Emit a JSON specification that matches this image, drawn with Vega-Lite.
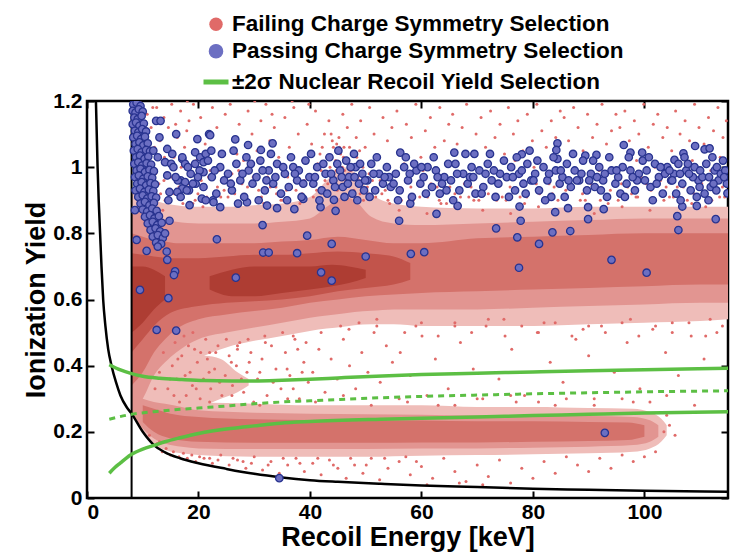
{
"$schema":"https://vega.github.io/schema/vega-lite/v6.json",
"width":641,"height":397,
"autosize":{"type":"none"},
"padding":{"left":87,"top":101,"right":17,"bottom":60},
"background":"white",
"config":{
"view":{"stroke":"#000","strokeWidth":2.5},
"font":"Liberation Sans",
"axis":{"labelFont":"Liberation Sans","labelFontWeight":"bold","labelFontSize":21,"labelColor":"#000","titleFont":"Liberation Sans","titleFontWeight":"bold","titleFontSize":27,"titleColor":"#000","grid":false,"domain":false,"tickColor":"#000","tickWidth":2,"tickSize":-7,"zindex":1}
},
"datasets":{
"dens":[
{"g":"1A","lev":1,"x":8,"lo":0.255,"hi":0.93},{"g":"1A","lev":1,"x":10,"lo":0.26,"hi":0.91},{"g":"1A","lev":1,"x":12,"lo":0.3,"hi":0.9},{"g":"1A","lev":1,"x":14,"lo":0.34,"hi":0.89},{"g":"1A","lev":1,"x":16,"lo":0.37,"hi":0.885},{"g":"1A","lev":1,"x":20,"lo":0.42,"hi":0.88},{"g":"1A","lev":1,"x":25,"lo":0.455,"hi":0.88},{"g":"1A","lev":1,"x":30,"lo":0.475,"hi":0.885},{"g":"1A","lev":1,"x":35,"lo":0.49,"hi":0.89},{"g":"1A","lev":1,"x":40,"lo":0.505,"hi":0.91},{"g":"1A","lev":1,"x":43,"lo":0.512,"hi":0.96},{"g":"1A","lev":1,"x":46,"lo":0.518,"hi":1.0},{"g":"1A","lev":1,"x":48,"lo":0.522,"hi":0.985},{"g":"1A","lev":1,"x":51,"lo":0.525,"hi":0.92},{"g":"1A","lev":1,"x":55,"lo":0.525,"hi":0.89},{"g":"1A","lev":1,"x":60,"lo":0.52,"hi":0.88},{"g":"1A","lev":1,"x":70,"lo":0.52,"hi":0.875},{"g":"1A","lev":1,"x":80,"lo":0.52,"hi":0.875},{"g":"1A","lev":1,"x":90,"lo":0.525,"hi":0.88},{"g":"1A","lev":1,"x":100,"lo":0.53,"hi":0.88},{"g":"1A","lev":1,"x":110,"lo":0.535,"hi":0.88},{"g":"1A","lev":1,"x":115,"lo":0.54,"hi":0.88},
{"g":"1B","lev":1,"x":8,"lo":0.255,"hi":0.32},{"g":"1B","lev":1,"x":10,"lo":0.2,"hi":0.31},{"g":"1B","lev":1,"x":12,"lo":0.165,"hi":0.305},{"g":"1B","lev":1,"x":14,"lo":0.145,"hi":0.3},{"g":"1B","lev":1,"x":17,"lo":0.135,"hi":0.295},{"g":"1B","lev":1,"x":20,"lo":0.13,"hi":0.29},{"g":"1B","lev":1,"x":30,"lo":0.125,"hi":0.285},{"g":"1B","lev":1,"x":40,"lo":0.125,"hi":0.28},{"g":"1B","lev":1,"x":50,"lo":0.125,"hi":0.28},{"g":"1B","lev":1,"x":60,"lo":0.128,"hi":0.28},{"g":"1B","lev":1,"x":70,"lo":0.13,"hi":0.275},{"g":"1B","lev":1,"x":80,"lo":0.132,"hi":0.275},{"g":"1B","lev":1,"x":90,"lo":0.135,"hi":0.272},{"g":"1B","lev":1,"x":98,"lo":0.14,"hi":0.27},{"g":"1B","lev":1,"x":101,"lo":0.15,"hi":0.26},{"g":"1B","lev":1,"x":103,"lo":0.17,"hi":0.24},{"g":"1B","lev":1,"x":104,"lo":0.19,"hi":0.22},
{"g":"1M","lev":1,"x":12,"lo":0.28,"hi":0.36},{"g":"1M","lev":1,"x":15,"lo":0.27,"hi":0.41},{"g":"1M","lev":1,"x":18,"lo":0.27,"hi":0.43},{"g":"1M","lev":1,"x":21,"lo":0.28,"hi":0.43},{"g":"1M","lev":1,"x":24,"lo":0.3,"hi":0.42},{"g":"1M","lev":1,"x":27,"lo":0.32,"hi":0.38},{"g":"1M","lev":1,"x":29,"lo":0.34,"hi":0.36},
{"g":"2A","lev":2,"x":8,"lo":0.27,"hi":0.87},{"g":"2A","lev":2,"x":10,"lo":0.3,"hi":0.86},{"g":"2A","lev":2,"x":12,"lo":0.37,"hi":0.85},{"g":"2A","lev":2,"x":14,"lo":0.41,"hi":0.84},{"g":"2A","lev":2,"x":16,"lo":0.44,"hi":0.835},{"g":"2A","lev":2,"x":20,"lo":0.48,"hi":0.83},{"g":"2A","lev":2,"x":25,"lo":0.5,"hi":0.83},{"g":"2A","lev":2,"x":30,"lo":0.515,"hi":0.83},{"g":"2A","lev":2,"x":35,"lo":0.53,"hi":0.835},{"g":"2A","lev":2,"x":40,"lo":0.545,"hi":0.845},{"g":"2A","lev":2,"x":43,"lo":0.552,"hi":0.88},{"g":"2A","lev":2,"x":46,"lo":0.558,"hi":0.91},{"g":"2A","lev":2,"x":48,"lo":0.562,"hi":0.9},{"g":"2A","lev":2,"x":51,"lo":0.566,"hi":0.85},{"g":"2A","lev":2,"x":55,"lo":0.57,"hi":0.83},{"g":"2A","lev":2,"x":60,"lo":0.57,"hi":0.825},{"g":"2A","lev":2,"x":70,"lo":0.57,"hi":0.83},{"g":"2A","lev":2,"x":80,"lo":0.575,"hi":0.835},{"g":"2A","lev":2,"x":90,"lo":0.58,"hi":0.84},{"g":"2A","lev":2,"x":100,"lo":0.585,"hi":0.845},{"g":"2A","lev":2,"x":110,"lo":0.59,"hi":0.845},{"g":"2A","lev":2,"x":115,"lo":0.59,"hi":0.845},
{"g":"2B","lev":2,"x":8,"lo":0.26,"hi":0.31},{"g":"2B","lev":2,"x":10,"lo":0.21,"hi":0.3},{"g":"2B","lev":2,"x":12,"lo":0.18,"hi":0.29},{"g":"2B","lev":2,"x":14,"lo":0.165,"hi":0.285},{"g":"2B","lev":2,"x":17,"lo":0.155,"hi":0.275},{"g":"2B","lev":2,"x":20,"lo":0.15,"hi":0.265},{"g":"2B","lev":2,"x":30,"lo":0.148,"hi":0.258},{"g":"2B","lev":2,"x":40,"lo":0.148,"hi":0.255},{"g":"2B","lev":2,"x":50,"lo":0.148,"hi":0.253},{"g":"2B","lev":2,"x":60,"lo":0.15,"hi":0.252},{"g":"2B","lev":2,"x":70,"lo":0.15,"hi":0.25},{"g":"2B","lev":2,"x":80,"lo":0.152,"hi":0.25},{"g":"2B","lev":2,"x":90,"lo":0.155,"hi":0.248},{"g":"2B","lev":2,"x":98,"lo":0.16,"hi":0.245},{"g":"2B","lev":2,"x":101,"lo":0.17,"hi":0.235},{"g":"2B","lev":2,"x":102.5,"lo":0.185,"hi":0.22},
{"g":"3A","lev":3,"x":8,"lo":0.34,"hi":0.8},{"g":"3A","lev":3,"x":10,"lo":0.38,"hi":0.79},{"g":"3A","lev":3,"x":12,"lo":0.44,"hi":0.78},{"g":"3A","lev":3,"x":14,"lo":0.48,"hi":0.775},{"g":"3A","lev":3,"x":16,"lo":0.51,"hi":0.77},{"g":"3A","lev":3,"x":20,"lo":0.54,"hi":0.77},{"g":"3A","lev":3,"x":25,"lo":0.555,"hi":0.77},{"g":"3A","lev":3,"x":30,"lo":0.565,"hi":0.77},{"g":"3A","lev":3,"x":35,"lo":0.575,"hi":0.775},{"g":"3A","lev":3,"x":40,"lo":0.59,"hi":0.78},{"g":"3A","lev":3,"x":45,"lo":0.6,"hi":0.79},{"g":"3A","lev":3,"x":50,"lo":0.61,"hi":0.78},{"g":"3A","lev":3,"x":55,"lo":0.615,"hi":0.77},{"g":"3A","lev":3,"x":60,"lo":0.62,"hi":0.77},{"g":"3A","lev":3,"x":70,"lo":0.625,"hi":0.785},{"g":"3A","lev":3,"x":80,"lo":0.63,"hi":0.79},{"g":"3A","lev":3,"x":90,"lo":0.635,"hi":0.795},{"g":"3A","lev":3,"x":100,"lo":0.64,"hi":0.8},{"g":"3A","lev":3,"x":110,"lo":0.645,"hi":0.8},{"g":"3A","lev":3,"x":115,"lo":0.645,"hi":0.8},
{"g":"3B","lev":3,"x":10,"lo":0.23,"hi":0.28},{"g":"3B","lev":3,"x":12,"lo":0.2,"hi":0.27},{"g":"3B","lev":3,"x":15,"lo":0.18,"hi":0.255},{"g":"3B","lev":3,"x":20,"lo":0.17,"hi":0.245},{"g":"3B","lev":3,"x":30,"lo":0.167,"hi":0.238},{"g":"3B","lev":3,"x":40,"lo":0.167,"hi":0.236},{"g":"3B","lev":3,"x":50,"lo":0.167,"hi":0.235},{"g":"3B","lev":3,"x":60,"lo":0.168,"hi":0.234},{"g":"3B","lev":3,"x":70,"lo":0.168,"hi":0.232},{"g":"3B","lev":3,"x":80,"lo":0.17,"hi":0.232},{"g":"3B","lev":3,"x":90,"lo":0.172,"hi":0.23},{"g":"3B","lev":3,"x":97,"lo":0.175,"hi":0.228},{"g":"3B","lev":3,"x":100,"lo":0.185,"hi":0.22},
{"g":"4A","lev":4,"x":8,"lo":0.44,"hi":0.74},{"g":"4A","lev":4,"x":10,"lo":0.48,"hi":0.735},{"g":"4A","lev":4,"x":12,"lo":0.52,"hi":0.73},{"g":"4A","lev":4,"x":15,"lo":0.56,"hi":0.725},{"g":"4A","lev":4,"x":20,"lo":0.58,"hi":0.725},{"g":"4A","lev":4,"x":25,"lo":0.59,"hi":0.73},{"g":"4A","lev":4,"x":30,"lo":0.595,"hi":0.735},{"g":"4A","lev":4,"x":35,"lo":0.6,"hi":0.735},{"g":"4A","lev":4,"x":40,"lo":0.61,"hi":0.74},{"g":"4A","lev":4,"x":45,"lo":0.625,"hi":0.745},{"g":"4A","lev":4,"x":50,"lo":0.635,"hi":0.74},{"g":"4A","lev":4,"x":55,"lo":0.645,"hi":0.73},{"g":"4A","lev":4,"x":58,"lo":0.66,"hi":0.71},
{"g":"5A","lev":5,"x":8,"lo":0.5,"hi":0.7},{"g":"5A","lev":5,"x":10,"lo":0.53,"hi":0.7},{"g":"5A","lev":5,"x":12,"lo":0.57,"hi":0.69},{"g":"5A","lev":5,"x":14,"lo":0.6,"hi":0.67},
{"g":"5C","lev":5,"x":22,"lo":0.63,"hi":0.67},{"g":"5C","lev":5,"x":26,"lo":0.61,"hi":0.69},{"g":"5C","lev":5,"x":30,"lo":0.61,"hi":0.7},{"g":"5C","lev":5,"x":35,"lo":0.62,"hi":0.7},{"g":"5C","lev":5,"x":40,"lo":0.63,"hi":0.7},{"g":"5C","lev":5,"x":44,"lo":0.64,"hi":0.705},{"g":"5C","lev":5,"x":47,"lo":0.65,"hi":0.7},{"g":"5C","lev":5,"x":50,"lo":0.665,"hi":0.69}
],
"pf":[
{"x":12.5,"y":1.18},{"x":13.8,"y":1.15},{"x":15.2,"y":1.19},{"x":14.6,"y":1.12},{"x":13.1,"y":1.08},{"x":15.9,"y":1.13},{"x":16.8,"y":1.17},{"x":17.5,"y":1.06},{"x":18.3,"y":1.14},{"x":19.1,"y":1.19},{"x":12.9,"y":0.95},{"x":14.1,"y":0.9},{"x":13.6,"y":0.87},
{"x":16.2,"y":1.09},{"x":17.9,"y":1.11},{"x":19.6,"y":1.02},{"x":20.4,"y":1.15},{"x":21.2,"y":1.07},{"x":22.5,"y":1.18},{"x":23.3,"y":1.12},{"x":24.1,"y":1.04},{"x":18.7,"y":0.98},{"x":21.8,"y":0.97},{"x":23.7,"y":0.99},{"x":16.5,"y":0.94},{"x":19.9,"y":0.92},{"x":22.9,"y":0.9},{"x":24.6,"y":0.93},{"x":17.2,"y":0.89},{"x":20.8,"y":0.88},{"x":18.0,"y":1.2},{"x":24.8,"y":1.16},{"x":15.6,"y":1.03},
{"x":25.7,"y":1.19},{"x":26.4,"y":1.08},{"x":27.3,"y":1.13},{"x":28.1,"y":1.02},{"x":28.9,"y":1.17},{"x":29.6,"y":1.1},{"x":30.5,"y":1.05},{"x":31.2,"y":1.14},{"x":32.1,"y":1.19},{"x":32.8,"y":1.08},{"x":33.6,"y":1.12},{"x":34.4,"y":1.03},{"x":26.0,"y":0.98},{"x":27.8,"y":0.95},{"x":29.2,"y":0.99},{"x":30.8,"y":0.93},{"x":32.4,"y":0.97},{"x":33.9,"y":0.94},{"x":25.3,"y":0.91},{"x":28.5,"y":0.9},{"x":31.7,"y":0.89},{"x":34.8,"y":0.9},{"x":26.9,"y":1.04},{"x":30.1,"y":1.2},{"x":33.2,"y":1.16},
{"x":35.5,"y":1.15},{"x":36.3,"y":1.06},{"x":37.1,"y":1.18},{"x":37.9,"y":1.1},{"x":38.7,"y":1.02},{"x":39.5,"y":1.13},{"x":40.3,"y":1.07},{"x":41.0,"y":1.17},{"x":41.8,"y":1.04},{"x":42.6,"y":1.1},{"x":43.4,"y":1.14},{"x":44.2,"y":1.06},{"x":36.0,"y":0.97},{"x":37.5,"y":0.93},{"x":39.0,"y":0.96},{"x":40.6,"y":0.91},{"x":42.0,"y":0.99},{"x":43.6,"y":1.0},{"x":44.6,"y":1.02},{"x":45.0,"y":1.05},{"x":43.0,"y":1.03},{"x":44.0,"y":1.08},{"x":42.2,"y":1.06},{"x":41.4,"y":1.01},{"x":35.2,"y":0.9},{"x":38.2,"y":0.89},{"x":39.8,"y":1.19},{"x":36.8,"y":1.2},
{"x":44.8,"y":1.07},{"x":45.5,"y":1.04},{"x":46.1,"y":1.06},{"x":46.8,"y":1.02},{"x":47.3,"y":0.99},{"x":45.8,"y":1.0},{"x":44.3,"y":0.97},{"x":46.5,"y":0.96},{"x":48.0,"y":1.0},{"x":48.6,"y":0.97},{"x":47.7,"y":1.04},{"x":49.2,"y":0.95},{"x":43.8,"y":1.1},{"x":45.2,"y":1.09},
{"x":45.9,"y":1.16},{"x":46.7,"y":1.12},{"x":47.5,"y":1.19},{"x":48.3,"y":1.09},{"x":49.1,"y":1.14},{"x":49.9,"y":1.06},{"x":50.7,"y":1.18},{"x":51.5,"y":1.1},{"x":52.3,"y":1.03},{"x":53.1,"y":1.15},{"x":53.9,"y":1.08},{"x":54.7,"y":1.12},{"x":50.3,"y":0.94},{"x":51.8,"y":0.91},{"x":53.5,"y":0.93},{"x":54.3,"y":0.89},{"x":52.6,"y":0.96},{"x":49.6,"y":0.9},
{"x":55.6,"y":1.17},{"x":56.5,"y":1.05},{"x":57.3,"y":1.13},{"x":58.2,"y":1.09},{"x":59.0,"y":1.19},{"x":59.9,"y":1.03},{"x":60.7,"y":1.11},{"x":61.6,"y":1.15},{"x":62.4,"y":1.06},{"x":63.3,"y":1.18},{"x":64.1,"y":1.08},{"x":64.9,"y":1.13},{"x":55.9,"y":0.93},{"x":57.8,"y":0.9},{"x":59.4,"y":0.95},{"x":61.1,"y":0.91},{"x":62.8,"y":0.94},{"x":64.5,"y":0.89},{"x":56.9,"y":1.01},{"x":60.3,"y":0.99},
{"x":65.6,"y":1.16},{"x":66.4,"y":1.07},{"x":67.3,"y":1.12},{"x":68.1,"y":1.19},{"x":69.0,"y":1.04},{"x":69.8,"y":1.1},{"x":70.7,"y":1.15},{"x":71.5,"y":1.06},{"x":72.4,"y":1.17},{"x":73.2,"y":1.09},{"x":74.1,"y":1.13},{"x":74.9,"y":1.04},{"x":66.0,"y":0.92},{"x":67.7,"y":0.95},{"x":69.4,"y":0.9},{"x":71.0,"y":0.93},{"x":72.8,"y":0.96},{"x":74.5,"y":0.91},{"x":68.6,"y":1.0},{"x":71.9,"y":0.98},
{"x":75.6,"y":1.18},{"x":76.5,"y":1.1},{"x":77.3,"y":1.14},{"x":78.2,"y":1.05},{"x":79.0,"y":1.16},{"x":79.9,"y":1.08},{"x":80.7,"y":1.19},{"x":81.6,"y":1.11},{"x":82.4,"y":1.06},{"x":83.3,"y":1.14},{"x":84.1,"y":1.09},{"x":84.9,"y":1.17},{"x":75.9,"y":0.94},{"x":77.7,"y":0.91},{"x":79.4,"y":0.96},{"x":81.2,"y":0.92},{"x":82.9,"y":0.95},{"x":84.5,"y":0.9},{"x":76.8,"y":1.02},{"x":80.2,"y":1.0},
{"x":85.6,"y":1.15},{"x":86.4,"y":1.08},{"x":87.3,"y":1.18},{"x":88.1,"y":1.12},{"x":89.0,"y":1.05},{"x":89.8,"y":1.16},{"x":90.7,"y":1.09},{"x":91.5,"y":1.13},{"x":92.4,"y":1.19},{"x":93.2,"y":1.07},{"x":94.1,"y":1.11},{"x":94.9,"y":1.16},{"x":85.9,"y":0.93},{"x":87.7,"y":0.96},{"x":89.4,"y":0.9},{"x":91.1,"y":0.94},{"x":92.8,"y":0.91},{"x":94.5,"y":0.95},{"x":88.6,"y":1.02},{"x":91.9,"y":0.99},
{"x":95.6,"y":1.12},{"x":96.5,"y":1.17},{"x":97.3,"y":1.08},{"x":98.2,"y":1.14},{"x":99.0,"y":1.1},{"x":99.9,"y":1.19},{"x":100.7,"y":1.06},{"x":101.6,"y":1.13},{"x":102.4,"y":1.16},{"x":103.3,"y":1.09},{"x":104.1,"y":1.12},{"x":104.9,"y":1.05},{"x":95.9,"y":0.95},{"x":97.7,"y":0.92},{"x":99.4,"y":0.97},{"x":101.2,"y":0.93},{"x":102.9,"y":0.96},{"x":104.5,"y":0.91},{"x":98.6,"y":1.02},{"x":101.9,"y":1.0},
{"x":105.6,"y":1.17},{"x":106.4,"y":1.1},{"x":107.3,"y":1.14},{"x":108.1,"y":1.08},{"x":109.0,"y":1.19},{"x":109.8,"y":1.12},{"x":110.7,"y":1.07},{"x":111.5,"y":1.15},{"x":112.4,"y":1.11},{"x":113.2,"y":1.18},{"x":114.1,"y":1.09},{"x":114.7,"y":1.14},{"x":105.9,"y":0.94},{"x":107.7,"y":0.9},{"x":109.4,"y":0.96},{"x":111.1,"y":0.92},{"x":112.8,"y":0.95},{"x":114.4,"y":0.91},{"x":108.6,"y":1.02},{"x":111.9,"y":0.99},{"x":113.6,"y":1.03},
{"x":9.5,"y":1.2},{"x":10.8,"y":1.16},{"x":11.5,"y":1.12},{"x":12.1,"y":1.06},{"x":11.8,"y":1.18},{"x":13.9,"y":1.03},{"x":12.3,"y":0.98},{"x":13.2,"y":0.92},{"x":13.8,"y":0.96},{"x":15.0,"y":0.97},{"x":15.7,"y":0.92},{"x":16.9,"y":1.0},{"x":18.2,"y":0.95},{"x":19.4,"y":0.9},{"x":20.5,"y":0.96},{"x":21.5,"y":0.91},{"x":22.1,"y":0.99},{"x":23.4,"y":0.94},{"x":24.9,"y":0.97},{"x":26.5,"y":0.92},{"x":27.2,"y":0.99},{"x":28.8,"y":0.94},{"x":29.8,"y":0.97},{"x":31.3,"y":0.91},{"x":32.9,"y":0.94},{"x":34.2,"y":0.97},{"x":35.8,"y":0.93},{"x":37.2,"y":0.96},{"x":38.6,"y":0.92},{"x":40.1,"y":0.95},{"x":41.2,"y":0.93},{"x":42.7,"y":0.96},{"x":44.9,"y":0.93},{"x":46.2,"y":0.99},{"x":47.9,"y":0.93},{"x":49.6,"y":0.98},{"x":51.2,"y":0.96},{"x":52.9,"y":0.92},{"x":54.8,"y":0.95},{"x":56.4,"y":0.9},{"x":58.1,"y":0.94},{"x":59.7,"y":0.91},{"x":61.7,"y":0.95},{"x":63.2,"y":0.9},{"x":65.1,"y":0.94},{"x":67.0,"y":0.91},{"x":68.9,"y":0.94},{"x":70.3,"y":0.9},{"x":72.0,"y":0.92},{"x":73.9,"y":0.95},{"x":75.2,"y":0.9},{"x":77.0,"y":0.93},{"x":78.9,"y":0.91},{"x":80.6,"y":0.95},{"x":82.2,"y":0.9},{"x":83.8,"y":0.94},{"x":85.3,"y":0.91},{"x":87.0,"y":0.94},{"x":88.9,"y":0.92},{"x":90.4,"y":0.95},{"x":92.1,"y":0.9},{"x":93.9,"y":0.93},{"x":95.3,"y":0.9},{"x":97.0,"y":0.94},{"x":98.8,"y":0.91},{"x":100.3,"y":0.95},{"x":102.0,"y":0.9},{"x":103.9,"y":0.94},{"x":105.2,"y":0.91},{"x":107.0,"y":0.94},{"x":108.9,"y":0.92},{"x":110.3,"y":0.95},{"x":112.1,"y":0.9},{"x":114.0,"y":0.94},
{"x":43.2,"y":0.95},{"x":44.7,"y":0.99},{"x":46.0,"y":1.03},{"x":47.1,"y":1.06},{"x":48.4,"y":1.03},{"x":49.5,"y":1.0},{"x":50.6,"y":0.98},{"x":45.3,"y":1.06},{"x":46.9,"y":0.98},{"x":48.9,"y":1.05},
{"x":12.2,"y":0.33},{"x":13.0,"y":0.38},{"x":13.7,"y":0.44},{"x":14.9,"y":0.36},{"x":15.6,"y":0.31},{"x":16.3,"y":0.42},{"x":17.6,"y":0.37},{"x":18.2,"y":0.46},{"x":19.6,"y":0.33},{"x":20.4,"y":0.44},{"x":21.9,"y":0.38},{"x":23.8,"y":0.35},{"x":25.9,"y":0.41},{"x":27.7,"y":0.36},{"x":29.1,"y":0.41},{"x":31.0,"y":0.38},{"x":33.4,"y":0.35},{"x":35.9,"y":0.39},{"x":37.0,"y":0.33},{"x":38.6,"y":0.38},
{"x":11.2,"y":0.19},{"x":12.6,"y":0.165},{"x":13.0,"y":0.17},{"x":14.2,"y":0.15},{"x":15.5,"y":0.14},{"x":17.3,"y":0.135},{"x":18.8,"y":0.13},{"x":20.2,"y":0.125},{"x":22.0,"y":0.12},{"x":23.5,"y":0.115},{"x":26.2,"y":0.12},{"x":28.0,"y":0.11},{"x":29.5,"y":0.105},{"x":32.5,"y":0.1},{"x":35.2,"y":0.12},{"x":38.2,"y":0.105},{"x":41.4,"y":0.12},{"x":44.2,"y":0.1},{"x":47.3,"y":0.12},{"x":50.1,"y":0.1},{"x":53.4,"y":0.12},{"x":57.2,"y":0.125},{"x":59.1,"y":0.11},
{"x":14.5,"y":0.33},{"x":15.3,"y":0.4},{"x":16.1,"y":0.36},{"x":17.0,"y":0.43},{"x":17.8,"y":0.31},{"x":18.5,"y":0.38},{"x":19.3,"y":0.45},{"x":16.6,"y":0.29},{"x":18.9,"y":0.34},{"x":19.8,"y":0.41},{"x":15.8,"y":0.47},{"x":17.4,"y":0.49},{"x":19.0,"y":0.5},
{"x":20.3,"y":0.3},{"x":20.9,"y":0.36},{"x":21.6,"y":0.42},{"x":22.2,"y":0.33},{"x":22.9,"y":0.39},{"x":23.5,"y":0.46},{"x":24.2,"y":0.31},{"x":24.8,"y":0.37},{"x":25.5,"y":0.43},{"x":26.1,"y":0.34},{"x":26.8,"y":0.4},{"x":27.4,"y":0.47},{"x":28.1,"y":0.32},{"x":28.7,"y":0.38},{"x":29.4,"y":0.44},{"x":29.9,"y":0.29},{"x":21.3,"y":0.48},{"x":23.1,"y":0.44},{"x":25.0,"y":0.48},{"x":27.0,"y":0.45},{"x":28.9,"y":0.48},
{"x":30.6,"y":0.36},{"x":31.4,"y":0.42},{"x":32.3,"y":0.31},{"x":33.1,"y":0.46},{"x":33.9,"y":0.39},{"x":34.8,"y":0.33},{"x":35.6,"y":0.44},{"x":36.4,"y":0.37},{"x":37.3,"y":0.48},{"x":38.1,"y":0.3},{"x":38.9,"y":0.41},{"x":39.7,"y":0.35},{"x":31.9,"y":0.49},{"x":35.1,"y":0.5},{"x":37.8,"y":0.45},{"x":39.3,"y":0.47},
{"x":40.5,"y":0.38},{"x":41.6,"y":0.45},{"x":42.7,"y":0.32},{"x":43.8,"y":0.42},{"x":44.9,"y":0.36},{"x":46.0,"y":0.48},{"x":47.1,"y":0.4},{"x":48.2,"y":0.33},{"x":49.3,"y":0.44},{"x":50.4,"y":0.38},{"x":51.5,"y":0.5},{"x":52.6,"y":0.35},{"x":53.7,"y":0.46},{"x":54.8,"y":0.41},{"x":45.5,"y":0.52},{"x":48.8,"y":0.53},{"x":52.0,"y":0.54},
{"x":56.2,"y":0.44},{"x":58.0,"y":0.37},{"x":60.1,"y":0.49},{"x":62.5,"y":0.42},{"x":64.8,"y":0.33},{"x":67.0,"y":0.47},{"x":69.3,"y":0.39},{"x":71.6,"y":0.52},{"x":73.9,"y":0.36},{"x":76.2,"y":0.45},{"x":78.5,"y":0.31},{"x":80.8,"y":0.5},{"x":83.1,"y":0.41},{"x":85.4,"y":0.35},{"x":87.7,"y":0.48},{"x":90.0,"y":0.43},{"x":92.3,"y":0.52},{"x":94.6,"y":0.38},{"x":96.9,"y":0.47},{"x":99.2,"y":0.33},{"x":101.5,"y":0.51},{"x":103.8,"y":0.44},{"x":106.1,"y":0.37},{"x":108.4,"y":0.49},{"x":110.7,"y":0.42},{"x":113.0,"y":0.5},{"x":59.0,"y":0.52},{"x":66.0,"y":0.53},{"x":74.8,"y":0.54},{"x":82.0,"y":0.53},{"x":89.0,"y":0.51},{"x":97.5,"y":0.54},{"x":105.0,"y":0.53},{"x":111.8,"y":0.54},{"x":57.5,"y":0.29},{"x":63.0,"y":0.28},{"x":70.0,"y":0.3},{"x":77.0,"y":0.29},{"x":84.0,"y":0.28},{"x":91.0,"y":0.3},{"x":98.0,"y":0.29},{"x":104.0,"y":0.31},{"x":109.0,"y":0.28},
{"x":13.5,"y":0.14},{"x":15.0,"y":0.13},{"x":16.5,"y":0.125},{"x":18.0,"y":0.12},{"x":19.5,"y":0.11},{"x":21.0,"y":0.12},{"x":22.5,"y":0.105},{"x":24.0,"y":0.13},{"x":25.5,"y":0.1},{"x":27.0,"y":0.115},{"x":28.5,"y":0.09},{"x":30.0,"y":0.125},{"x":31.5,"y":0.085},{"x":33.0,"y":0.11},{"x":34.5,"y":0.075},{"x":36.0,"y":0.1},{"x":37.5,"y":0.12},{"x":39.0,"y":0.08},{"x":40.5,"y":0.105},{"x":42.0,"y":0.07},{"x":43.5,"y":0.115},{"x":45.0,"y":0.09},{"x":46.5,"y":0.06},{"x":48.0,"y":0.1},{"x":49.5,"y":0.075},{"x":51.0,"y":0.12},{"x":52.5,"y":0.055},{"x":54.0,"y":0.09},{"x":56.0,"y":0.11},{"x":58.0,"y":0.07},{"x":60.0,"y":0.095},{"x":62.0,"y":0.06},{"x":64.0,"y":0.12},{"x":66.0,"y":0.08},{"x":68.0,"y":0.05},{"x":70.0,"y":0.1},{"x":72.0,"y":0.065},{"x":74.0,"y":0.115},{"x":76.0,"y":0.045},{"x":78.0,"y":0.09},{"x":80.0,"y":0.06},{"x":82.0,"y":0.11},{"x":84.0,"y":0.075},{"x":86.0,"y":0.125},{"x":88.0,"y":0.1},{"x":90.0,"y":0.08},{"x":92.0,"y":0.12},{"x":94.0,"y":0.09},{"x":96.0,"y":0.13},{"x":98.0,"y":0.11},{"x":100.0,"y":0.125},{"x":102.0,"y":0.14},{"x":61.0,"y":0.04},{"x":66.8,"y":0.045},{"x":71.0,"y":0.04},
{"x":22,"y":0.29},{"x":26,"y":0.31},{"x":31,"y":0.28},{"x":36,"y":0.3},{"x":41,"y":0.29},{"x":46,"y":0.31},{"x":51,"y":0.28},{"x":56,"y":0.3},{"x":61,"y":0.31},{"x":66,"y":0.28},{"x":71,"y":0.3},{"x":76,"y":0.31},{"x":81,"y":0.29},{"x":86,"y":0.3},{"x":91,"y":0.28},{"x":96,"y":0.3},{"x":101,"y":0.29},{"x":104.5,"y":0.22},{"x":103.5,"y":0.2},{"x":105.5,"y":0.19},{"x":104.0,"y":0.25},
{"x":56,"y":0.87},{"x":58.5,"y":0.9},{"x":61,"y":0.86},{"x":63.5,"y":0.89},{"x":66,"y":0.88},{"x":68.5,"y":0.91},{"x":71,"y":0.87},{"x":73.5,"y":0.9},{"x":76,"y":0.86},{"x":78.5,"y":0.89},{"x":81,"y":0.88},{"x":83.5,"y":0.92},{"x":86,"y":0.87},{"x":88.5,"y":0.9},{"x":91,"y":0.86},{"x":93.5,"y":0.89},{"x":96,"y":0.88},{"x":98.5,"y":0.91},{"x":101,"y":0.87},{"x":103.5,"y":0.9},{"x":106,"y":0.86},{"x":108.5,"y":0.89},{"x":111,"y":0.88},{"x":113.5,"y":0.91},{"x":14,"y":0.9},{"x":19,"y":0.89},{"x":24,"y":0.91},{"x":29,"y":0.9},{"x":34,"y":0.92},{"x":39,"y":0.91},{"x":44,"y":0.9},{"x":49,"y":0.92},{"x":54,"y":0.9},
{"x":57,"y":0.5},{"x":60,"y":0.53},{"x":63,"y":0.49},{"x":66,"y":0.52},{"x":69,"y":0.5},{"x":72,"y":0.54},{"x":75,"y":0.49},{"x":78,"y":0.52},{"x":81,"y":0.5},{"x":84,"y":0.53},{"x":87,"y":0.49},{"x":90,"y":0.52},{"x":93,"y":0.5},{"x":96,"y":0.53},{"x":99,"y":0.49},{"x":102,"y":0.52},{"x":105,"y":0.5},{"x":108,"y":0.53},{"x":111,"y":0.49},{"x":114,"y":0.52},{"x":22,"y":0.44},{"x":27,"y":0.46},{"x":32,"y":0.47},{"x":37,"y":0.49},{"x":42,"y":0.5},{"x":47,"y":0.51},{"x":52,"y":0.52}
],
"pp":[
{"x":8.3,"y":1.19},{"x":8.9,"y":1.195},{"x":9.6,"y":1.185},{"x":8.2,"y":1.17},{"x":8.7,"y":1.165},{"x":9.3,"y":1.175},{"x":10.0,"y":1.168},{"x":8.5,"y":1.15},{"x":9.1,"y":1.145},{"x":9.8,"y":1.155},{"x":8.2,"y":1.13},{"x":8.8,"y":1.135},{"x":9.4,"y":1.125},{"x":10.2,"y":1.132},{"x":8.6,"y":1.11},{"x":9.2,"y":1.105},{"x":9.9,"y":1.115},{"x":10.6,"y":1.108},{"x":8.3,"y":1.09},{"x":9.0,"y":1.095},{"x":9.7,"y":1.085},{"x":10.4,"y":1.092},{"x":8.7,"y":1.07},{"x":9.4,"y":1.075},{"x":10.1,"y":1.066},{"x":10.9,"y":1.072},{"x":8.4,"y":1.05},{"x":9.1,"y":1.055},{"x":9.8,"y":1.045},{"x":10.6,"y":1.052},{"x":11.3,"y":1.048},{"x":8.8,"y":1.03},{"x":9.5,"y":1.035},{"x":10.3,"y":1.025},{"x":11.0,"y":1.032},{"x":8.5,"y":1.01},{"x":9.2,"y":1.015},{"x":9.9,"y":1.005},{"x":10.7,"y":1.012},{"x":11.5,"y":1.008},{"x":8.9,"y":0.99},{"x":9.6,"y":0.995},{"x":10.4,"y":0.985},{"x":11.2,"y":0.992},{"x":12.0,"y":0.988},{"x":8.6,"y":0.97},{"x":9.3,"y":0.975},{"x":10.1,"y":0.965},{"x":10.9,"y":0.972},{"x":11.7,"y":0.968},{"x":9.0,"y":0.95},{"x":9.8,"y":0.955},{"x":10.6,"y":0.945},{"x":11.4,"y":0.952},{"x":12.2,"y":0.948},{"x":8.7,"y":0.93},{"x":9.5,"y":0.935},{"x":10.3,"y":0.925},{"x":11.1,"y":0.932},{"x":11.9,"y":0.928},{"x":9.2,"y":0.91},{"x":10.0,"y":0.915},{"x":10.8,"y":0.905},{"x":11.6,"y":0.912},{"x":12.4,"y":0.908},{"x":9.6,"y":0.89},{"x":10.4,"y":0.895},{"x":11.2,"y":0.885},{"x":12.0,"y":0.892},{"x":8.6,"y":0.87},{"x":10.0,"y":0.872},{"x":10.8,"y":0.866},{"x":11.7,"y":0.875},{"x":12.5,"y":0.868},{"x":10.4,"y":0.85},{"x":11.3,"y":0.855},{"x":12.1,"y":0.845},{"x":12.9,"y":0.852},{"x":10.9,"y":0.83},{"x":11.8,"y":0.835},{"x":12.6,"y":0.825},{"x":13.4,"y":0.832},{"x":11.4,"y":0.81},{"x":12.3,"y":0.815},{"x":13.1,"y":0.806},{"x":11.8,"y":0.79},{"x":12.7,"y":0.795},{"x":13.6,"y":0.786},{"x":12.4,"y":0.772},{"x":13.3,"y":0.768},
{"x":8.9,"y":0.78},{"x":10.7,"y":0.747},{"x":12.7,"y":0.76},{"x":14.3,"y":0.745},{"x":14.4,"y":0.72},{"x":15.8,"y":0.685},{"x":14.8,"y":0.838},{"x":14.0,"y":0.8},{"x":12.4,"y":1.14},{"x":13.2,"y":1.14},{"x":13.0,"y":1.09},{"x":16.0,"y":1.1},{"x":19.8,"y":1.085},{"x":21.9,"y":1.1},{"x":11.9,"y":1.05},{"x":14.4,"y":1.055},{"x":15.3,"y":1.04},{"x":12.7,"y":1.03},{"x":14.0,"y":1.015},{"x":15.1,"y":1.01},{"x":17.1,"y":1.025},{"x":17.6,"y":1.01},{"x":19.4,"y":1.045},{"x":20.3,"y":1.03},{"x":21.3,"y":1.04},{"x":20.9,"y":1.015},{"x":22.3,"y":1.05},{"x":20.9,"y":0.985},{"x":14.4,"y":0.975},{"x":16.8,"y":0.96},{"x":17.6,"y":0.955},{"x":17.1,"y":0.935},{"x":18.3,"y":0.93},{"x":16.2,"y":0.925},{"x":19.5,"y":0.95},{"x":18.4,"y":0.885},{"x":20.6,"y":0.905},{"x":14.6,"y":0.9},{"x":22.6,"y":0.9},{"x":14.8,"y":0.925},{"x":9.5,"y":0.629},{"x":14.6,"y":0.604},{"x":12.5,"y":0.508},{"x":16.0,"y":0.506},{"x":15.6,"y":0.674},
{"x":23.3,"y":0.782},{"x":26.7,"y":0.666},{"x":31.5,"y":0.825},{"x":31.6,"y":0.742},{"x":32.6,"y":0.742},{"x":37.7,"y":0.74},{"x":39.5,"y":0.793},{"x":43.9,"y":0.768},{"x":42.0,"y":0.682},{"x":43.9,"y":0.657},{"x":50.0,"y":0.73},{"x":34.5,"y":0.06},{"x":92.9,"y":0.197},
{"x":56.0,"y":0.838},{"x":58.0,"y":0.89},{"x":58.1,"y":0.738},{"x":60.5,"y":0.743},{"x":62.7,"y":0.859},{"x":66.5,"y":0.883},{"x":73.4,"y":0.815},{"x":77.2,"y":0.788},{"x":77.5,"y":0.696},{"x":77.8,"y":0.838},{"x":77.6,"y":0.881},{"x":81.1,"y":0.768},{"x":83.5,"y":0.803},{"x":84.0,"y":0.864},{"x":86.7,"y":0.807},{"x":86.3,"y":0.876},{"x":89.9,"y":0.843},{"x":89.9,"y":0.879},{"x":92.7,"y":0.873},{"x":94.1,"y":0.72},{"x":100.4,"y":0.681},{"x":105.9,"y":0.852},{"x":106.1,"y":0.81},{"x":112.8,"y":0.843},{"x":114.9,"y":0.921},{"x":109.4,"y":0.883},{"x":106.8,"y":0.881},
{"x":56.2,"y":1.044},{"x":65.9,"y":1.044},{"x":69.5,"y":1.04},{"x":78.0,"y":1.039},{"x":84.4,"y":1.072},{"x":84.2,"y":1.052},{"x":84.4,"y":1.025},{"x":96.3,"y":1.067},{"x":97.5,"y":1.044},{"x":99.6,"y":1.044},{"x":107.0,"y":1.042},{"x":109.1,"y":1.064},{"x":110.8,"y":1.054},{"x":111.7,"y":1.057},{"x":89.4,"y":1.035},{"x":91.4,"y":1.037},{"x":105.4,"y":1.022},{"x":26.6,"y":1.084},{"x":28.9,"y":1.067},{"x":33.3,"y":1.072},{"x":31.2,"y":1.052},{"x":22.1,"y":1.097},
{"x":22.7,"y":0.894},{"x":23.9,"y":0.879},{"x":28.7,"y":0.894},{"x":32.3,"y":0.884},{"x":34.1,"y":0.876},{"x":37.2,"y":0.873},{"x":38.8,"y":0.904},{"x":41.9,"y":0.879},{"x":44.3,"y":0.901},{"x":44.6,"y":0.868},
{"x":15.5,"y":1.0},{"x":16.3,"y":0.96},{"x":17.1,"y":1.03},{"x":17.9,"y":0.93},{"x":18.6,"y":0.98},{"x":19.4,"y":1.01},{"x":16.8,"y":0.91},{"x":19.0,"y":0.95},
{"x":20.2,"y":0.99},{"x":20.9,"y":0.94},{"x":21.7,"y":1.02},{"x":22.4,"y":0.97},{"x":23.2,"y":0.92},{"x":23.9,"y":1.0},{"x":24.6,"y":0.96},{"x":21.3,"y":0.9},{"x":24.2,"y":1.04},
{"x":25.3,"y":0.98},{"x":26.0,"y":0.93},{"x":26.8,"y":1.01},{"x":27.5,"y":0.96},{"x":28.2,"y":0.91},{"x":29.0,"y":0.99},{"x":29.7,"y":0.95},{"x":26.3,"y":1.05},{"x":28.6,"y":1.03},{"x":27.1,"y":0.89},
{"x":30.4,"y":0.97},{"x":31.1,"y":1.02},{"x":31.9,"y":0.93},{"x":32.6,"y":0.99},{"x":33.4,"y":0.95},{"x":34.1,"y":1.01},{"x":34.8,"y":0.92},{"x":30.8,"y":0.9},{"x":33.0,"y":1.04},{"x":32.2,"y":0.96},
{"x":35.5,"y":0.98},{"x":36.2,"y":0.94},{"x":37.0,"y":1.0},{"x":37.7,"y":0.96},{"x":38.5,"y":0.91},{"x":39.2,"y":1.02},{"x":39.9,"y":0.97},{"x":36.6,"y":1.03},{"x":38.0,"y":0.99},{"x":35.9,"y":0.9},
{"x":40.6,"y":0.95},{"x":41.3,"y":1.0},{"x":42.1,"y":0.93},{"x":42.8,"y":0.98},{"x":43.5,"y":1.03},{"x":44.2,"y":0.96},{"x":44.9,"y":1.01},{"x":41.7,"y":0.9},{"x":43.1,"y":0.92},{"x":40.2,"y":1.04},
{"x":45.4,"y":0.99},{"x":45.9,"y":0.94},{"x":46.5,"y":1.02},{"x":47.0,"y":0.97},{"x":47.6,"y":0.92},{"x":48.2,"y":1.0},{"x":48.8,"y":0.95},{"x":49.4,"y":0.98},{"x":46.2,"y":0.91},{"x":47.9,"y":1.04},{"x":49.7,"y":0.93},{"x":45.1,"y":1.05},{"x":48.5,"y":0.9},
{"x":50.3,"y":0.96},{"x":51.0,"y":1.01},{"x":51.7,"y":0.93},{"x":52.4,"y":0.98},{"x":53.1,"y":0.95},{"x":53.8,"y":1.0},{"x":54.5,"y":0.94},{"x":50.7,"y":0.91},{"x":52.0,"y":1.03},{"x":54.2,"y":0.97},
{"x":55.4,"y":0.98},{"x":56.1,"y":0.93},{"x":56.9,"y":1.0},{"x":57.6,"y":0.96},{"x":58.3,"y":0.91},{"x":59.1,"y":0.99},{"x":59.8,"y":0.95},{"x":57.2,"y":1.03},{"x":55.8,"y":0.9},{"x":58.7,"y":1.01},
{"x":60.4,"y":0.97},{"x":61.1,"y":1.0},{"x":61.9,"y":0.94},{"x":62.6,"y":0.99},{"x":63.3,"y":0.92},{"x":64.1,"y":0.97},{"x":64.8,"y":1.01},{"x":60.8,"y":0.92},{"x":62.2,"y":1.03},{"x":63.7,"y":0.95},
{"x":65.3,"y":0.96},{"x":66.1,"y":1.01},{"x":66.8,"y":0.93},{"x":67.5,"y":0.98},{"x":68.3,"y":0.95},{"x":69.0,"y":1.0},{"x":69.7,"y":0.92},{"x":65.7,"y":0.9},{"x":67.9,"y":1.04},{"x":68.7,"y":0.97},
{"x":70.4,"y":0.99},{"x":71.1,"y":0.94},{"x":71.9,"y":1.01},{"x":72.6,"y":0.96},{"x":73.3,"y":0.91},{"x":74.1,"y":0.98},{"x":74.8,"y":1.02},{"x":70.8,"y":0.92},{"x":72.3,"y":1.04},{"x":73.8,"y":0.95},
{"x":75.3,"y":0.97},{"x":76.1,"y":1.0},{"x":76.8,"y":0.93},{"x":77.5,"y":0.98},{"x":78.3,"y":0.95},{"x":79.0,"y":1.01},{"x":79.7,"y":0.96},{"x":75.7,"y":0.91},{"x":77.1,"y":1.03},{"x":78.7,"y":0.92},{"x":79.4,"y":1.05},
{"x":80.4,"y":0.98},{"x":81.1,"y":0.93},{"x":81.9,"y":1.0},{"x":82.6,"y":0.96},{"x":83.3,"y":0.91},{"x":84.1,"y":0.99},{"x":84.8,"y":0.95},{"x":80.8,"y":1.02},{"x":82.2,"y":0.9},{"x":83.7,"y":1.03},
{"x":85.3,"y":0.97},{"x":86.1,"y":1.01},{"x":86.8,"y":0.94},{"x":87.5,"y":0.99},{"x":88.3,"y":0.96},{"x":89.0,"y":1.02},{"x":89.7,"y":0.93},{"x":85.7,"y":0.91},{"x":87.2,"y":1.04},{"x":88.7,"y":0.98},{"x":86.4,"y":0.96},
{"x":90.4,"y":0.98},{"x":91.1,"y":0.94},{"x":91.9,"y":1.0},{"x":92.6,"y":0.96},{"x":93.3,"y":0.91},{"x":94.1,"y":0.99},{"x":94.8,"y":0.95},{"x":90.8,"y":1.02},{"x":92.2,"y":0.93},{"x":93.7,"y":1.03},{"x":91.5,"y":0.97},
{"x":95.3,"y":0.97},{"x":96.1,"y":1.0},{"x":96.8,"y":0.95},{"x":97.5,"y":0.99},{"x":98.3,"y":0.93},{"x":99.0,"y":0.98},{"x":99.7,"y":1.02},{"x":95.7,"y":0.92},{"x":97.2,"y":1.03},{"x":98.7,"y":0.96},{"x":96.5,"y":0.91},
{"x":100.4,"y":0.99},{"x":101.1,"y":0.94},{"x":101.9,"y":1.01},{"x":102.6,"y":0.97},{"x":103.3,"y":0.92},{"x":104.1,"y":1.0},{"x":104.8,"y":0.96},{"x":100.8,"y":1.03},{"x":102.2,"y":0.95},{"x":103.7,"y":0.98},{"x":101.5,"y":0.9},
{"x":105.3,"y":0.98},{"x":106.1,"y":1.01},{"x":106.8,"y":0.95},{"x":107.5,"y":0.99},{"x":108.3,"y":0.93},{"x":109.0,"y":1.0},{"x":109.7,"y":0.96},{"x":105.7,"y":0.92},{"x":107.2,"y":1.03},{"x":108.7,"y":0.97},{"x":106.5,"y":0.9},{"x":109.4,"y":0.91},
{"x":110.4,"y":0.97},{"x":111.1,"y":1.01},{"x":111.9,"y":0.94},{"x":112.6,"y":0.99},{"x":113.3,"y":0.96},{"x":114.1,"y":1.02},{"x":114.8,"y":0.95},{"x":110.8,"y":0.92},{"x":112.2,"y":1.03},{"x":113.7,"y":0.98},{"x":111.5,"y":0.9},{"x":114.5,"y":0.99},{"x":112.9,"y":0.93},
{"x":15.9,"y":0.97},{"x":18.1,"y":1.0},{"x":19.9,"y":0.97},{"x":22.9,"y":0.99},{"x":25.8,"y":0.95},{"x":27.9,"y":0.98},{"x":29.4,"y":1.01},{"x":31.5,"y":0.99},{"x":33.8,"y":0.97},{"x":35.2,"y":1.0},{"x":37.3,"y":0.98},{"x":38.8,"y":0.95},{"x":40.9,"y":0.97},{"x":42.4,"y":1.01},{"x":43.8,"y":0.98},{"x":44.5,"y":0.94},{"x":45.7,"y":0.97},{"x":46.8,"y":0.95},{"x":47.3,"y":1.0},{"x":48.0,"y":0.97},{"x":49.0,"y":1.01},{"x":49.9,"y":0.96},{"x":51.4,"y":0.98},{"x":53.4,"y":0.97},{"x":55.0,"y":0.95},{"x":57.9,"y":0.98},{"x":60.0,"y":1.0},{"x":62.9,"y":0.97},{"x":64.5,"y":0.93},{"x":66.4,"y":0.98},{"x":69.3,"y":0.97},{"x":71.5,"y":0.98},{"x":73.0,"y":0.99},{"x":76.4,"y":0.97},{"x":78.0,"y":0.99},{"x":80.1,"y":0.96},{"x":82.9,"y":0.98},{"x":85.0,"y":0.99},{"x":87.9,"y":0.96},{"x":90.1,"y":0.96},{"x":92.9,"y":0.98},{"x":95.0,"y":0.99},{"x":97.9,"y":0.97},{"x":100.1,"y":0.96},{"x":102.9,"y":1.0},{"x":105.0,"y":0.96},{"x":106.4,"y":0.98},{"x":108.0,"y":0.98},{"x":110.0,"y":0.99},{"x":111.6,"y":0.97},{"x":113.0,"y":1.0},{"x":114.3,"y":0.97},{"x":107.8,"y":1.01},{"x":104.5,"y":0.99},{"x":109.9,"y":0.94},{"x":112.4,"y":0.95}
],
"gl":[
{"k":"u","x":4,"y":0.403},{"k":"u","x":6,"y":0.387},{"k":"u","x":8,"y":0.376},{"k":"u","x":10,"y":0.368},{"k":"u","x":13,"y":0.362},{"k":"u","x":17,"y":0.358},{"k":"u","x":21,"y":0.355},{"k":"u","x":26,"y":0.354},{"k":"u","x":30,"y":0.354},{"k":"u","x":35,"y":0.356},{"k":"u","x":40,"y":0.359},{"k":"u","x":45,"y":0.363},{"k":"u","x":53,"y":0.369},{"k":"u","x":60,"y":0.373},{"k":"u","x":70,"y":0.377},{"k":"u","x":80,"y":0.381},{"k":"u","x":90,"y":0.385},{"k":"u","x":100,"y":0.388},{"k":"u","x":115,"y":0.392},
{"k":"l","x":4,"y":0.075},{"k":"l","x":5,"y":0.092},{"k":"l","x":6,"y":0.106},{"k":"l","x":7,"y":0.12},{"k":"l","x":8,"y":0.132},{"k":"l","x":10,"y":0.148},{"k":"l","x":12.2,"y":0.16},{"k":"l","x":14,"y":0.17},{"k":"l","x":16.7,"y":0.182},{"k":"l","x":20,"y":0.195},{"k":"l","x":25.7,"y":0.21},{"k":"l","x":30,"y":0.218},{"k":"l","x":34.7,"y":0.226},{"k":"l","x":40,"y":0.231},{"k":"l","x":52.7,"y":0.238},{"k":"l","x":60,"y":0.241},{"k":"l","x":70,"y":0.245},{"k":"l","x":80,"y":0.249},{"k":"l","x":90,"y":0.253},{"k":"l","x":100,"y":0.257},{"k":"l","x":115,"y":0.261}
],
"gm":[
{"x":4,"y":0.238},{"x":8,"y":0.253},{"x":12,"y":0.261},{"x":16.7,"y":0.268},{"x":20,"y":0.272},{"x":25.7,"y":0.279},{"x":30,"y":0.285},{"x":34.7,"y":0.29},{"x":40,"y":0.294},{"x":52.7,"y":0.303},{"x":60,"y":0.307},{"x":70,"y":0.311},{"x":80,"y":0.315},{"x":90,"y":0.318},{"x":100,"y":0.321},{"x":115,"y":0.324}
],
"bk":[
{"x":1.6,"y":1.2},{"x":1.75,"y":1.1},{"x":1.9,"y":1.0},{"x":2.1,"y":0.9},{"x":2.35,"y":0.8},{"x":2.6,"y":0.7},{"x":2.9,"y":0.6},{"x":3.3,"y":0.52},{"x":3.8,"y":0.45},{"x":4.4,"y":0.4},{"x":5.2,"y":0.35},{"x":6.0,"y":0.31},{"x":7.1,"y":0.275},{"x":8,"y":0.255},{"x":10,"y":0.2},{"x":12,"y":0.16},{"x":14,"y":0.138},{"x":16.7,"y":0.12},{"x":20,"y":0.105},{"x":25,"y":0.088},{"x":30,"y":0.073},{"x":35,"y":0.062},{"x":40,"y":0.054},{"x":45,"y":0.049},{"x":52.7,"y":0.043},{"x":60,"y":0.038},{"x":70,"y":0.033},{"x":80,"y":0.028},{"x":90,"y":0.025},{"x":100,"y":0.022},{"x":115,"y":0.019}
],
"vr":[{"x":8}]
},
"layer":[
{"data":{"name":"dens"},
 "mark":{"type":"area","interpolate":"monotone","clip":true},
 "encoding":{
  "x":{"field":"x","type":"quantitative","scale":{"domain":[0,115],"nice":false,"zero":false},
       "axis":{"values":[0,20,40,60,80,100],"title":"Recoil Energy [keV]","labelPadding":10,"titleX":320.5,"titleY":47,"titleBaseline":"alphabetic"}},
  "y":{"field":"lo","type":"quantitative","stack":null,"scale":{"domain":[0,1.2],"nice":false},
       "axis":{"values":[0,0.2,0.4,0.6,0.8,1,1.2],"format":"~g","title":"Ionization Yield","labelPadding":12,"titleX":-43,"titleY":198.5,"titleAngle":-90,"titleBaseline":"alphabetic"}},
  "y2":{"field":"hi"},
  "fill":{"field":"lev","type":"ordinal","scale":{"domain":[1,2,3,4,5],"range":["#efbdb9","#e29591","#d4726b","#c2544b","#ae3d33"]},"legend":null},
  "detail":{"field":"g"}
 }},
{"data":{"name":"pf"},
 "mark":{"type":"point","filled":true,"size":9,"opacity":1,"clip":true},
 "encoding":{
  "x":{"field":"x","type":"quantitative","axis":null},
  "y":{"field":"y","type":"quantitative","axis":null},
  "color":{"datum":"Failing Charge Symmetry Selection","type":"nominal",
    "scale":{"domain":["Failing Charge Symmetry Selection","Passing Charge Symmetry Selection","±2σ Nuclear Recoil Yield Selection"],"range":["#e06a68","#6c6fc2","#5cbf44"]}}
 }},
{"data":{"name":"vr"},
 "mark":{"type":"rule","color":"#000","strokeWidth":2},
 "encoding":{"x":{"field":"x","type":"quantitative","axis":{"orient":"top","values":[0,20,40,60,80,100],"labels":false,"title":null}}}},
{"data":{"name":"bk"},
 "mark":{"type":"line","color":"#000","strokeWidth":2.5,"interpolate":"monotone","clip":true},
 "encoding":{
  "x":{"field":"x","type":"quantitative","axis":null},
  "y":{"field":"y","type":"quantitative","axis":{"orient":"right","values":[0,0.2,0.4,0.6,0.8,1,1.2],"labels":false,"title":null}}
 }},
{"data":{"name":"gl"},
 "mark":{"type":"line","strokeWidth":3.5,"interpolate":"monotone","clip":true},
 "encoding":{
  "x":{"field":"x","type":"quantitative","axis":null},
  "y":{"field":"y","type":"quantitative","axis":null},
  "color":{"datum":"±2σ Nuclear Recoil Yield Selection","type":"nominal"},
  "detail":{"field":"k"}
 }},
{"data":{"name":"gm"},
 "mark":{"type":"line","strokeWidth":3,"strokeDash":[6,5],"interpolate":"monotone","clip":true},
 "encoding":{
  "x":{"field":"x","type":"quantitative","axis":null},
  "y":{"field":"y","type":"quantitative","axis":null},
  "color":{"datum":"±2σ Nuclear Recoil Yield Selection","type":"nominal"}
 }},
{"data":{"name":"pp"},
 "mark":{"type":"point","filled":true,"size":55,"stroke":"#28338f","strokeWidth":1.3,"opacity":1,"clip":true},
 "encoding":{
  "x":{"field":"x","type":"quantitative","axis":null},
  "y":{"field":"y","type":"quantitative","axis":null},
  "color":{"datum":"Passing Charge Symmetry Selection","type":"nominal"}
 }},
{"data":{"name":"vr"},
 "transform":[{"filter":"datum.x < 0"}],
 "mark":{"type":"point","filled":true,"opacity":1},
 "encoding":{
  "color":{"datum":"Failing Charge Symmetry Selection","type":"nominal",
    "legend":{"title":null,"orient":"none","legendX":114,"legendY":-88,"direction":"vertical","labelFontSize":22.5,"labelFont":"Liberation Sans","labelFontWeight":"bold","labelColor":"#000","labelOffset":1,"rowPadding":4,"labelLimit":1000,"padding":0}},
  "shape":{"datum":"Failing Charge Symmetry Selection","type":"nominal","scale":{"domain":["Failing Charge Symmetry Selection","Passing Charge Symmetry Selection","±2σ Nuclear Recoil Yield Selection"],"range":["circle","circle","stroke"]},"legend":{"title":null}},
  "size":{"datum":"Failing Charge Symmetry Selection","type":"ordinal","scale":{"type":"ordinal","domain":["Failing Charge Symmetry Selection","Passing Charge Symmetry Selection","±2σ Nuclear Recoil Yield Selection"],"range":[180,180,625]},"legend":{"title":null}},
  "stroke":{"datum":"Failing Charge Symmetry Selection","type":"nominal","scale":{"domain":["Failing Charge Symmetry Selection","Passing Charge Symmetry Selection","±2σ Nuclear Recoil Yield Selection"],"range":["#e57373","#3a3f9a","#5cbf44"]},"legend":{"title":null}},
  "strokeWidth":{"datum":"Failing Charge Symmetry Selection","type":"ordinal","scale":{"type":"ordinal","domain":["Failing Charge Symmetry Selection","Passing Charge Symmetry Selection","±2σ Nuclear Recoil Yield Selection"],"range":[0,1.2,5]},"legend":{"title":null}}
 }}
],
"resolve":{"axis":{"x":"independent","y":"independent"}}
}
